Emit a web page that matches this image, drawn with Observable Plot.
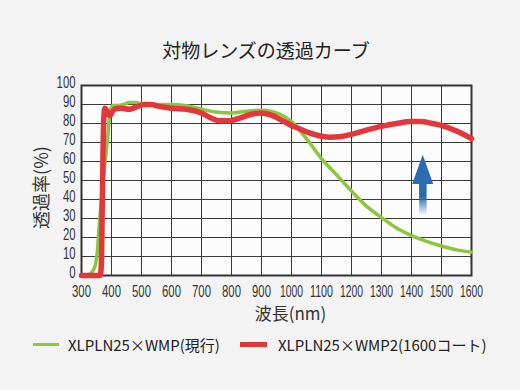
<!DOCTYPE html>
<html>
<head>
<meta charset="utf-8">
<script src="https://cdn.jsdelivr.net/npm/d3@7"></script>
<script src="https://cdn.jsdelivr.net/npm/@observablehq/plot@0.6"></script>
<style>
  html, body { margin: 0; padding: 0; }
  body { width: 520px; height: 390px; background: #f3f3f3; position: relative; overflow: hidden;
         font-family: "Noto Sans CJK JP", sans-serif; color: #222; }
  #title { position: absolute; top: 40px; left: 6px; width: 520px; text-align: center;
           font-size: 19px; line-height: 19px; }
  #chart { position: absolute; top: 70px; left: 0; }
  .lg-line { position: absolute; }
  .lg-text { position: absolute; font-size: 15px; line-height: 15px; top: 336.5px; white-space: nowrap; }
</style>
</head>
<body>
<div id="title">対物レンズの透過カーブ</div>
<div id="chart"></div>
<div class="lg-line" style="left:33px; top:342.5px; width:26px; height:3.5px; background:#8cc63f"></div>
<div class="lg-text" style="left:68px">XLPLN25×WMP(現行)</div>
<div class="lg-line" style="left:240px; top:341.5px; width:27px; height:5.5px; background:#e2383b"></div>
<div class="lg-text" style="left:278px">XLPLN25×WMP2(1600コート)</div>
<script>
// Tick values
const xTicks = [300,400,500,600,700,800,900,1000,1100,1200,1300,1400,1500,1600];
const yTicks = [0,10,20,30,40,50,60,70,80,90,100];

// XLPLN25×WMP (現行) — green
const greenWl = [300,320,330,340,347,353,358,365,372,380,387,393,398,405,420,440,460,480,500,550,600,650,700,750,800,850,900,930,960,1000,1050,1100,1150,1200,1250,1300,1350,1400,1450,1500,1550,1600];
const greenT  = [0,0,1,3,6,13,24,38,50,62,72,83,88,89.5,89.5,90,91,91,90.5,90,90,89.3,87.5,86,85.5,86.5,87,86.5,85,81,72,61.5,53,44.5,36.5,30.5,25,21,18,15.5,13.5,12.3];

// XLPLN25×WMP2 (1600コート) — red
const redWl = [300,362,366,370,374,378,383,390,396,402,412,430,460,480,510,530,560,600,650,700,730,760,790,830,870,900,930,970,1000,1030,1070,1100,1130,1160,1200,1250,1300,1350,1400,1430,1470,1500,1550,1600];
const redT  = [0,0,5,45,82,88,87,84.5,84.3,86,87.8,88,87.5,88.5,90,90,89,88,87.5,85.5,83,81.5,81.5,83,85,85.5,84.5,81.5,79,77,74.5,73.3,72.8,73,74.3,76.5,78.5,80,81,81,80,79,76,72];

// Arrow annotation (data coordinates)
const arrowX = [1404, 1439, 1474];
const arrowHeadY = [47.9, 63.3, 47.9];
const arrowBase = 47.9;
const shaftX = [1427, 1452];
const shaftY = [31.4, 47.9];

const green = greenWl.map((x, i) => ({x, y: greenT[i]}));
const red = redWl.map((x, i) => ({x, y: redT[i]}));
const head = arrowX.map((x, i) => ({x, y: arrowHeadY[i]}));
const shaft = [{x1: shaftX[0], x2: shaftX[1], y1: shaftY[0], y2: shaftY[1]}];

const defs = () => {
  const d = d3.create("svg:defs");
  const g = d.append("linearGradient").attr("id", "arrowGrad")
    .attr("x1", 0).attr("y1", 0).attr("x2", 0).attr("y2", 1);
  g.append("stop").attr("offset", "0").attr("stop-color", "#2b6cb0").attr("stop-opacity", 1);
  g.append("stop").attr("offset", "0.4").attr("stop-color", "#2b6cb0").attr("stop-opacity", 1);
  g.append("stop").attr("offset", "1").attr("stop-color", "#2b6cb0").attr("stop-opacity", 0);
  return d.node();
};

const tickFont = "'Liberation Sans Narrow', 'Liberation Sans', sans-serif";

const chart = Plot.plot({
  width: 520, height: 255,
  marginLeft: 81, marginRight: 49, marginTop: 15, marginBottom: 50,
  x: {domain: [300, 1600]},
  y: {domain: [0, 100]},
  style: {background: "transparent", fontFamily: "'Noto Sans CJK JP', sans-serif", color: "#333"},
  marks: [
    defs,
    Plot.frame({fill: "#fcfcfc", stroke: null}),
    Plot.gridX(xTicks, {stroke: "#3a3a3a", strokeOpacity: 1, strokeWidth: 1}),
    Plot.gridY(yTicks, {stroke: "#3a3a3a", strokeOpacity: 1, strokeWidth: 1}),
    Plot.frame({stroke: "#333", strokeWidth: 2}),
    Plot.line(green, {x: "x", y: "y", stroke: "#8cc63f", strokeWidth: 3.5, curve: "monotone-x"}),
    Plot.line(red, {x: "x", y: "y", stroke: "#e2383b", strokeWidth: 5.5, curve: "monotone-x"}),
    Plot.rect(shaft, {x1: "x1", x2: "x2", y1: "y1", y2: "y2", fill: "url(#arrowGrad)"}),
    Plot.areaY(head, {x: "x", y1: arrowBase, y2: "y", fill: "#2b6cb0", curve: "linear"}),
    Plot.axisX(xTicks, {tickSize: 0, tickPadding: 10, fontSize: 15.8, fontFamily: tickFont, fill: "#333", label: null, tickFormat: d => String(d)}),
    Plot.axisY(yTicks, {tickSize: 0, tickPadding: 6, dy: -2.5, fontSize: 16.5, fontFamily: tickFont, fill: "#333", label: null, tickFormat: d => String(d)}),
    Plot.text(["波長(nm)"], {frameAnchor: "bottom", lineAnchor: "middle", textAnchor: "middle", dx: 14, dy: 39.5, fontSize: 17, fill: "#333"}),
    Plot.text(["透過率(%)"], {frameAnchor: "left", lineAnchor: "middle", textAnchor: "middle", rotate: -90, dx: -39, dy: 7, fontSize: 18, fill: "#333"})
  ]
});
document.getElementById("chart").appendChild(chart);

// condense tick labels like the reference's narrow numerals
d3.select(chart).selectAll('g[aria-label="x-axis tick label"] text, g[aria-label="y-axis tick label"] text')
  .each(function() {
    const n = this.textContent.length;
    const w = n >= 4 ? 23 : n * 6.3;
    d3.select(this).attr("textLength", w).attr("lengthAdjust", "spacingAndGlyphs");
  });
</script>
</body>
</html>
